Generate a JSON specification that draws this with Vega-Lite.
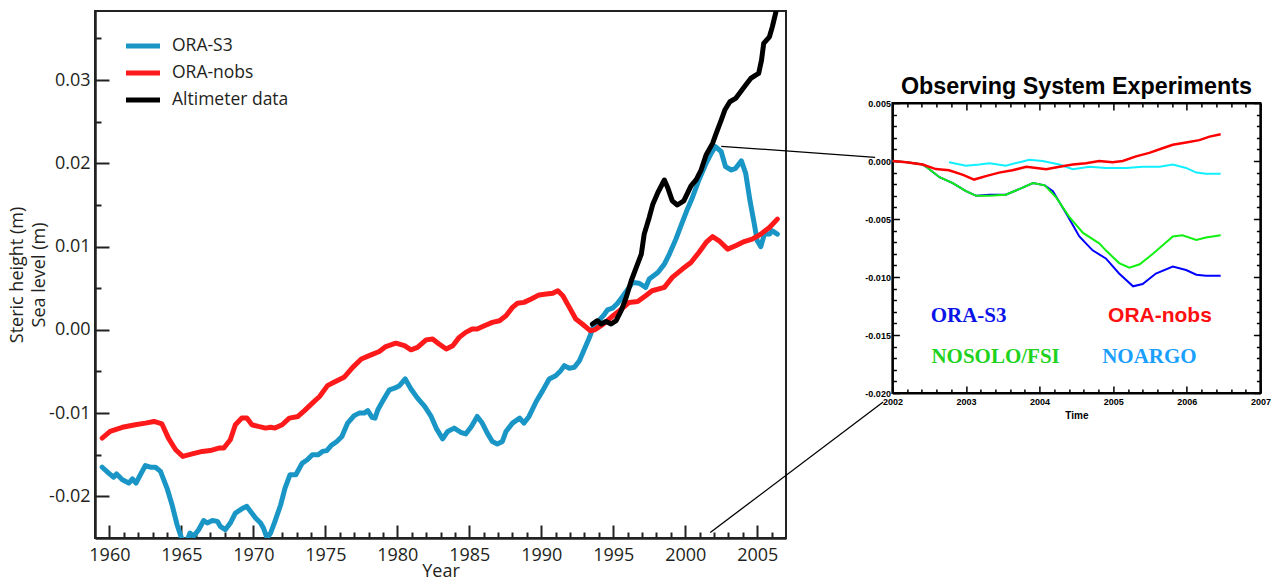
{
  "$schema": "https://vega.github.io/schema/vega-lite/v6.json",
  "background": "white",
  "padding": {"left": 7, "top": 10, "right": 0, "bottom": 0},
  "autosize": {"type": "pad"},
  "config": {
    "font": "Open Sans",
    "axis": {"grid": false, "labelFlush": false, "labelOverlap": false}
  },
  "datasets": {
    "main": [
      {"series": "ORA-S3", "year": 1959.5, "value": -0.0165},
      {"series": "ORA-S3", "year": 1959.95, "value": -0.0172},
      {"series": "ORA-S3", "year": 1960.3, "value": -0.0177},
      {"series": "ORA-S3", "year": 1960.5, "value": -0.0173},
      {"series": "ORA-S3", "year": 1960.9, "value": -0.018},
      {"series": "ORA-S3", "year": 1961.35, "value": -0.0184},
      {"series": "ORA-S3", "year": 1961.6, "value": -0.0179},
      {"series": "ORA-S3", "year": 1961.85, "value": -0.0184},
      {"series": "ORA-S3", "year": 1962.15, "value": -0.0174},
      {"series": "ORA-S3", "year": 1962.5, "value": -0.0163},
      {"series": "ORA-S3", "year": 1962.85, "value": -0.0165},
      {"series": "ORA-S3", "year": 1963.2, "value": -0.0165},
      {"series": "ORA-S3", "year": 1963.55, "value": -0.017},
      {"series": "ORA-S3", "year": 1964.0, "value": -0.019},
      {"series": "ORA-S3", "year": 1964.35, "value": -0.021},
      {"series": "ORA-S3", "year": 1964.7, "value": -0.0234},
      {"series": "ORA-S3", "year": 1965.05, "value": -0.0252},
      {"series": "ORA-S3", "year": 1965.4, "value": -0.0253},
      {"series": "ORA-S3", "year": 1965.6, "value": -0.0244},
      {"series": "ORA-S3", "year": 1965.85, "value": -0.0248},
      {"series": "ORA-S3", "year": 1966.2, "value": -0.024},
      {"series": "ORA-S3", "year": 1966.55, "value": -0.0229},
      {"series": "ORA-S3", "year": 1966.8, "value": -0.0232},
      {"series": "ORA-S3", "year": 1967.15, "value": -0.0229},
      {"series": "ORA-S3", "year": 1967.5, "value": -0.023},
      {"series": "ORA-S3", "year": 1967.7, "value": -0.0236},
      {"series": "ORA-S3", "year": 1968.05, "value": -0.024},
      {"series": "ORA-S3", "year": 1968.4, "value": -0.0232},
      {"series": "ORA-S3", "year": 1968.75, "value": -0.022},
      {"series": "ORA-S3", "year": 1969.2, "value": -0.0215},
      {"series": "ORA-S3", "year": 1969.55, "value": -0.0212},
      {"series": "ORA-S3", "year": 1969.8, "value": -0.0218},
      {"series": "ORA-S3", "year": 1970.15, "value": -0.0226},
      {"series": "ORA-S3", "year": 1970.5, "value": -0.0232},
      {"series": "ORA-S3", "year": 1970.7, "value": -0.0238},
      {"series": "ORA-S3", "year": 1970.95, "value": -0.025},
      {"series": "ORA-S3", "year": 1971.2, "value": -0.0244},
      {"series": "ORA-S3", "year": 1971.5, "value": -0.023},
      {"series": "ORA-S3", "year": 1971.9, "value": -0.021},
      {"series": "ORA-S3", "year": 1972.2, "value": -0.019},
      {"series": "ORA-S3", "year": 1972.55, "value": -0.0174},
      {"series": "ORA-S3", "year": 1972.95, "value": -0.0174},
      {"series": "ORA-S3", "year": 1973.4, "value": -0.016},
      {"series": "ORA-S3", "year": 1973.75, "value": -0.0156},
      {"series": "ORA-S3", "year": 1974.1, "value": -0.015},
      {"series": "ORA-S3", "year": 1974.5, "value": -0.015},
      {"series": "ORA-S3", "year": 1974.8, "value": -0.0146},
      {"series": "ORA-S3", "year": 1975.1, "value": -0.0145},
      {"series": "ORA-S3", "year": 1975.4, "value": -0.0139},
      {"series": "ORA-S3", "year": 1975.8, "value": -0.0134},
      {"series": "ORA-S3", "year": 1976.15, "value": -0.0128},
      {"series": "ORA-S3", "year": 1976.55, "value": -0.0112},
      {"series": "ORA-S3", "year": 1977.0, "value": -0.0103},
      {"series": "ORA-S3", "year": 1977.35, "value": -0.01},
      {"series": "ORA-S3", "year": 1977.7, "value": -0.01},
      {"series": "ORA-S3", "year": 1977.95, "value": -0.0097},
      {"series": "ORA-S3", "year": 1978.25, "value": -0.0105},
      {"series": "ORA-S3", "year": 1978.45, "value": -0.0106},
      {"series": "ORA-S3", "year": 1978.65, "value": -0.0096},
      {"series": "ORA-S3", "year": 1979.0, "value": -0.0085},
      {"series": "ORA-S3", "year": 1979.45, "value": -0.0072},
      {"series": "ORA-S3", "year": 1979.8, "value": -0.007},
      {"series": "ORA-S3", "year": 1980.15, "value": -0.0067},
      {"series": "ORA-S3", "year": 1980.55, "value": -0.0059},
      {"series": "ORA-S3", "year": 1980.95, "value": -0.0071},
      {"series": "ORA-S3", "year": 1981.4, "value": -0.0082},
      {"series": "ORA-S3", "year": 1981.9, "value": -0.0092},
      {"series": "ORA-S3", "year": 1982.35, "value": -0.0104},
      {"series": "ORA-S3", "year": 1982.7, "value": -0.0118},
      {"series": "ORA-S3", "year": 1983.15, "value": -0.0131},
      {"series": "ORA-S3", "year": 1983.5, "value": -0.0122},
      {"series": "ORA-S3", "year": 1983.95, "value": -0.0118},
      {"series": "ORA-S3", "year": 1984.4, "value": -0.0123},
      {"series": "ORA-S3", "year": 1984.75, "value": -0.0125},
      {"series": "ORA-S3", "year": 1985.15, "value": -0.0116},
      {"series": "ORA-S3", "year": 1985.55, "value": -0.0104},
      {"series": "ORA-S3", "year": 1985.9, "value": -0.0112},
      {"series": "ORA-S3", "year": 1986.25, "value": -0.0124},
      {"series": "ORA-S3", "year": 1986.6, "value": -0.0134},
      {"series": "ORA-S3", "year": 1986.95, "value": -0.0137},
      {"series": "ORA-S3", "year": 1987.3, "value": -0.0134},
      {"series": "ORA-S3", "year": 1987.55, "value": -0.0122},
      {"series": "ORA-S3", "year": 1988.0, "value": -0.0112},
      {"series": "ORA-S3", "year": 1988.5, "value": -0.0106},
      {"series": "ORA-S3", "year": 1988.8, "value": -0.0112},
      {"series": "ORA-S3", "year": 1989.15, "value": -0.0104},
      {"series": "ORA-S3", "year": 1989.65, "value": -0.0086},
      {"series": "ORA-S3", "year": 1990.1, "value": -0.0073},
      {"series": "ORA-S3", "year": 1990.55, "value": -0.0059},
      {"series": "ORA-S3", "year": 1991.0, "value": -0.0055},
      {"series": "ORA-S3", "year": 1991.35, "value": -0.0049},
      {"series": "ORA-S3", "year": 1991.6, "value": -0.0043},
      {"series": "ORA-S3", "year": 1991.95, "value": -0.0046},
      {"series": "ORA-S3", "year": 1992.3, "value": -0.0045},
      {"series": "ORA-S3", "year": 1992.65, "value": -0.0037},
      {"series": "ORA-S3", "year": 1993.0, "value": -0.0023},
      {"series": "ORA-S3", "year": 1993.35, "value": -0.0009},
      {"series": "ORA-S3", "year": 1993.6, "value": 0.0003},
      {"series": "ORA-S3", "year": 1994.0, "value": 0.0011},
      {"series": "ORA-S3", "year": 1994.4, "value": 0.0019},
      {"series": "ORA-S3", "year": 1994.6, "value": 0.0024},
      {"series": "ORA-S3", "year": 1994.95, "value": 0.0026},
      {"series": "ORA-S3", "year": 1995.3, "value": 0.0032},
      {"series": "ORA-S3", "year": 1995.65, "value": 0.004},
      {"series": "ORA-S3", "year": 1995.9, "value": 0.0046},
      {"series": "ORA-S3", "year": 1996.35, "value": 0.0057},
      {"series": "ORA-S3", "year": 1996.8, "value": 0.0056},
      {"series": "ORA-S3", "year": 1997.25, "value": 0.0051},
      {"series": "ORA-S3", "year": 1997.5, "value": 0.0061},
      {"series": "ORA-S3", "year": 1998.1, "value": 0.0069},
      {"series": "ORA-S3", "year": 1998.55, "value": 0.0079},
      {"series": "ORA-S3", "year": 1998.9, "value": 0.0091},
      {"series": "ORA-S3", "year": 1999.35, "value": 0.0109},
      {"series": "ORA-S3", "year": 1999.7, "value": 0.0125},
      {"series": "ORA-S3", "year": 2000.15, "value": 0.0145},
      {"series": "ORA-S3", "year": 2000.5, "value": 0.0159},
      {"series": "ORA-S3", "year": 2000.95, "value": 0.018},
      {"series": "ORA-S3", "year": 2001.45, "value": 0.02},
      {"series": "ORA-S3", "year": 2001.8, "value": 0.0212},
      {"series": "ORA-S3", "year": 2002.1, "value": 0.022},
      {"series": "ORA-S3", "year": 2002.5, "value": 0.0214},
      {"series": "ORA-S3", "year": 2002.8, "value": 0.0196},
      {"series": "ORA-S3", "year": 2003.2, "value": 0.0192},
      {"series": "ORA-S3", "year": 2003.5, "value": 0.0194},
      {"series": "ORA-S3", "year": 2003.9, "value": 0.0203},
      {"series": "ORA-S3", "year": 2004.2, "value": 0.0188},
      {"series": "ORA-S3", "year": 2004.5, "value": 0.0155},
      {"series": "ORA-S3", "year": 2004.8, "value": 0.0127},
      {"series": "ORA-S3", "year": 2005.0, "value": 0.0107},
      {"series": "ORA-S3", "year": 2005.25, "value": 0.01},
      {"series": "ORA-S3", "year": 2005.5, "value": 0.0115},
      {"series": "ORA-S3", "year": 2005.85, "value": 0.0115},
      {"series": "ORA-S3", "year": 2006.05, "value": 0.0119},
      {"series": "ORA-S3", "year": 2006.4, "value": 0.0115},
      {"series": "ORA-nobs", "year": 1959.5, "value": -0.013},
      {"series": "ORA-nobs", "year": 1960.05, "value": -0.0122},
      {"series": "ORA-nobs", "year": 1960.9, "value": -0.0117},
      {"series": "ORA-nobs", "year": 1961.8, "value": -0.0114},
      {"series": "ORA-nobs", "year": 1962.5, "value": -0.0112},
      {"series": "ORA-nobs", "year": 1963.1, "value": -0.011},
      {"series": "ORA-nobs", "year": 1963.65, "value": -0.0113},
      {"series": "ORA-nobs", "year": 1964.1, "value": -0.013},
      {"series": "ORA-nobs", "year": 1964.6, "value": -0.0144},
      {"series": "ORA-nobs", "year": 1965.1, "value": -0.0152},
      {"series": "ORA-nobs", "year": 1965.75, "value": -0.0149},
      {"series": "ORA-nobs", "year": 1966.45, "value": -0.0146},
      {"series": "ORA-nobs", "year": 1967.0, "value": -0.0145},
      {"series": "ORA-nobs", "year": 1967.6, "value": -0.0142},
      {"series": "ORA-nobs", "year": 1967.95, "value": -0.0142},
      {"series": "ORA-nobs", "year": 1968.4, "value": -0.0132},
      {"series": "ORA-nobs", "year": 1968.75, "value": -0.0114},
      {"series": "ORA-nobs", "year": 1969.2, "value": -0.0106},
      {"series": "ORA-nobs", "year": 1969.55, "value": -0.0106},
      {"series": "ORA-nobs", "year": 1969.9, "value": -0.0114},
      {"series": "ORA-nobs", "year": 1970.35, "value": -0.0116},
      {"series": "ORA-nobs", "year": 1970.85, "value": -0.0118},
      {"series": "ORA-nobs", "year": 1971.2, "value": -0.0117},
      {"series": "ORA-nobs", "year": 1971.5, "value": -0.0118},
      {"series": "ORA-nobs", "year": 1972.0, "value": -0.0114},
      {"series": "ORA-nobs", "year": 1972.5, "value": -0.0106},
      {"series": "ORA-nobs", "year": 1973.1, "value": -0.0104},
      {"series": "ORA-nobs", "year": 1973.55, "value": -0.0097},
      {"series": "ORA-nobs", "year": 1974.1, "value": -0.0088},
      {"series": "ORA-nobs", "year": 1974.6, "value": -0.008},
      {"series": "ORA-nobs", "year": 1975.15, "value": -0.0067},
      {"series": "ORA-nobs", "year": 1975.6, "value": -0.0063},
      {"series": "ORA-nobs", "year": 1976.3, "value": -0.0057},
      {"series": "ORA-nobs", "year": 1976.9, "value": -0.0045},
      {"series": "ORA-nobs", "year": 1977.5, "value": -0.0035},
      {"series": "ORA-nobs", "year": 1978.05, "value": -0.0031},
      {"series": "ORA-nobs", "year": 1978.75, "value": -0.0026},
      {"series": "ORA-nobs", "year": 1979.2, "value": -0.002},
      {"series": "ORA-nobs", "year": 1979.9, "value": -0.0016},
      {"series": "ORA-nobs", "year": 1980.5, "value": -0.0019},
      {"series": "ORA-nobs", "year": 1980.95, "value": -0.0024},
      {"series": "ORA-nobs", "year": 1981.4, "value": -0.0021},
      {"series": "ORA-nobs", "year": 1982.0, "value": -0.0012},
      {"series": "ORA-nobs", "year": 1982.45, "value": -0.0011},
      {"series": "ORA-nobs", "year": 1982.9, "value": -0.0017},
      {"series": "ORA-nobs", "year": 1983.4, "value": -0.0023},
      {"series": "ORA-nobs", "year": 1983.85, "value": -0.0019},
      {"series": "ORA-nobs", "year": 1984.3, "value": -0.0009},
      {"series": "ORA-nobs", "year": 1984.75, "value": -0.0003},
      {"series": "ORA-nobs", "year": 1985.2, "value": 0.0001},
      {"series": "ORA-nobs", "year": 1985.55, "value": 0.0001},
      {"series": "ORA-nobs", "year": 1986.05, "value": 0.0005},
      {"series": "ORA-nobs", "year": 1986.6, "value": 0.0009},
      {"series": "ORA-nobs", "year": 1987.1, "value": 0.0011},
      {"series": "ORA-nobs", "year": 1987.55, "value": 0.0017},
      {"series": "ORA-nobs", "year": 1988.0, "value": 0.0027},
      {"series": "ORA-nobs", "year": 1988.35, "value": 0.0032},
      {"series": "ORA-nobs", "year": 1988.8, "value": 0.0033},
      {"series": "ORA-nobs", "year": 1989.3, "value": 0.0037},
      {"series": "ORA-nobs", "year": 1989.85, "value": 0.0042},
      {"series": "ORA-nobs", "year": 1990.35, "value": 0.0043},
      {"series": "ORA-nobs", "year": 1990.8, "value": 0.0044},
      {"series": "ORA-nobs", "year": 1991.15, "value": 0.0047},
      {"series": "ORA-nobs", "year": 1991.5, "value": 0.0041},
      {"series": "ORA-nobs", "year": 1991.95, "value": 0.0027},
      {"series": "ORA-nobs", "year": 1992.4, "value": 0.0013},
      {"series": "ORA-nobs", "year": 1992.85, "value": 0.0007},
      {"series": "ORA-nobs", "year": 1993.4, "value": -0.0001},
      {"series": "ORA-nobs", "year": 1993.7, "value": 0.0},
      {"series": "ORA-nobs", "year": 1994.15, "value": 0.0005},
      {"series": "ORA-nobs", "year": 1994.6, "value": 0.0011},
      {"series": "ORA-nobs", "year": 1995.05, "value": 0.0018},
      {"series": "ORA-nobs", "year": 1995.65, "value": 0.0026},
      {"series": "ORA-nobs", "year": 1996.1, "value": 0.0033},
      {"series": "ORA-nobs", "year": 1996.7, "value": 0.0034},
      {"series": "ORA-nobs", "year": 1997.25, "value": 0.0041},
      {"series": "ORA-nobs", "year": 1997.7, "value": 0.0047},
      {"series": "ORA-nobs", "year": 1998.55, "value": 0.0051},
      {"series": "ORA-nobs", "year": 1999.1, "value": 0.0063},
      {"series": "ORA-nobs", "year": 1999.8, "value": 0.0073},
      {"series": "ORA-nobs", "year": 2000.4, "value": 0.0081},
      {"series": "ORA-nobs", "year": 2000.95, "value": 0.0093},
      {"series": "ORA-nobs", "year": 2001.45, "value": 0.0105},
      {"series": "ORA-nobs", "year": 2001.9, "value": 0.0112},
      {"series": "ORA-nobs", "year": 2002.35, "value": 0.0107},
      {"series": "ORA-nobs", "year": 2002.95, "value": 0.0097},
      {"series": "ORA-nobs", "year": 2003.5, "value": 0.0101},
      {"series": "ORA-nobs", "year": 2004.1, "value": 0.0106},
      {"series": "ORA-nobs", "year": 2004.65, "value": 0.0109},
      {"series": "ORA-nobs", "year": 2005.25, "value": 0.0115},
      {"series": "ORA-nobs", "year": 2005.85, "value": 0.0123},
      {"series": "ORA-nobs", "year": 2006.4, "value": 0.0133},
      {"series": "Altimeter data", "year": 1993.55, "value": 0.0007},
      {"series": "Altimeter data", "year": 1993.9, "value": 0.0011},
      {"series": "Altimeter data", "year": 1994.15, "value": 0.0007},
      {"series": "Altimeter data", "year": 1994.5, "value": 0.001},
      {"series": "Altimeter data", "year": 1994.85, "value": 0.0007},
      {"series": "Altimeter data", "year": 1995.2, "value": 0.0011},
      {"series": "Altimeter data", "year": 1995.55, "value": 0.0023},
      {"series": "Altimeter data", "year": 1995.9, "value": 0.0039},
      {"series": "Altimeter data", "year": 1996.25, "value": 0.0059},
      {"series": "Altimeter data", "year": 1996.6, "value": 0.0075},
      {"series": "Altimeter data", "year": 1996.95, "value": 0.0091},
      {"series": "Altimeter data", "year": 1997.15, "value": 0.0115},
      {"series": "Altimeter data", "year": 1997.5, "value": 0.0135},
      {"series": "Altimeter data", "year": 1997.75, "value": 0.0151},
      {"series": "Altimeter data", "year": 1998.1, "value": 0.0165},
      {"series": "Altimeter data", "year": 1998.55, "value": 0.018},
      {"series": "Altimeter data", "year": 1998.8, "value": 0.017},
      {"series": "Altimeter data", "year": 1999.1, "value": 0.0155},
      {"series": "Altimeter data", "year": 1999.45, "value": 0.015},
      {"series": "Altimeter data", "year": 1999.9, "value": 0.0155},
      {"series": "Altimeter data", "year": 2000.4, "value": 0.0173},
      {"series": "Altimeter data", "year": 2000.75, "value": 0.018},
      {"series": "Altimeter data", "year": 2001.1, "value": 0.0192},
      {"series": "Altimeter data", "year": 2001.45, "value": 0.021},
      {"series": "Altimeter data", "year": 2001.9, "value": 0.0224},
      {"series": "Altimeter data", "year": 2002.15, "value": 0.0236},
      {"series": "Altimeter data", "year": 2002.5, "value": 0.0252},
      {"series": "Altimeter data", "year": 2002.75, "value": 0.0264},
      {"series": "Altimeter data", "year": 2003.1, "value": 0.0274},
      {"series": "Altimeter data", "year": 2003.5, "value": 0.0278},
      {"series": "Altimeter data", "year": 2003.85, "value": 0.0286},
      {"series": "Altimeter data", "year": 2004.2, "value": 0.0294},
      {"series": "Altimeter data", "year": 2004.55, "value": 0.0302},
      {"series": "Altimeter data", "year": 2004.9, "value": 0.0306},
      {"series": "Altimeter data", "year": 2005.1, "value": 0.0308},
      {"series": "Altimeter data", "year": 2005.3, "value": 0.0324},
      {"series": "Altimeter data", "year": 2005.45, "value": 0.0344},
      {"series": "Altimeter data", "year": 2005.85, "value": 0.0352},
      {"series": "Altimeter data", "year": 2006.05, "value": 0.0364},
      {"series": "Altimeter data", "year": 2006.3, "value": 0.0382}
    ],
    "links": [
      {"year": 2002.5, "value": 0.02205, "year2": 2013.19, "value2": 0.02072},
      {"year": 2001.74, "value": -0.02434, "year2": 2013.75, "value2": -0.00867}
    ],
    "inset": [
      {"series": "ORA-S3", "year": 2002.0, "value": 0.0},
      {"series": "ORA-S3", "year": 2002.2, "value": -0.0001},
      {"series": "ORA-S3", "year": 2002.41, "value": -0.0003},
      {"series": "ORA-S3", "year": 2002.48, "value": -0.0006},
      {"series": "ORA-S3", "year": 2002.64, "value": -0.0014},
      {"series": "ORA-S3", "year": 2002.82, "value": -0.0019},
      {"series": "ORA-S3", "year": 2003.0, "value": -0.0026},
      {"series": "ORA-S3", "year": 2003.14, "value": -0.003},
      {"series": "ORA-S3", "year": 2003.32, "value": -0.0029},
      {"series": "ORA-S3", "year": 2003.54, "value": -0.0029},
      {"series": "ORA-S3", "year": 2003.73, "value": -0.0024},
      {"series": "ORA-S3", "year": 2003.91, "value": -0.0019},
      {"series": "ORA-S3", "year": 2004.07, "value": -0.0021},
      {"series": "ORA-S3", "year": 2004.18, "value": -0.0026},
      {"series": "ORA-S3", "year": 2004.36, "value": -0.0045},
      {"series": "ORA-S3", "year": 2004.54, "value": -0.0065},
      {"series": "ORA-S3", "year": 2004.72, "value": -0.0077},
      {"series": "ORA-S3", "year": 2004.9, "value": -0.0084},
      {"series": "ORA-S3", "year": 2005.08, "value": -0.0097},
      {"series": "ORA-S3", "year": 2005.27, "value": -0.0108},
      {"series": "ORA-S3", "year": 2005.4, "value": -0.0106},
      {"series": "ORA-S3", "year": 2005.58, "value": -0.0097},
      {"series": "ORA-S3", "year": 2005.81, "value": -0.0091},
      {"series": "ORA-S3", "year": 2005.99, "value": -0.0094},
      {"series": "ORA-S3", "year": 2006.13, "value": -0.0098},
      {"series": "ORA-S3", "year": 2006.26, "value": -0.0099},
      {"series": "ORA-S3", "year": 2006.46, "value": -0.0099},
      {"series": "NOSOLO/FSI", "year": 2002.0, "value": 0.0},
      {"series": "NOSOLO/FSI", "year": 2002.2, "value": -0.0001},
      {"series": "NOSOLO/FSI", "year": 2002.41, "value": -0.0003},
      {"series": "NOSOLO/FSI", "year": 2002.48, "value": -0.0006},
      {"series": "NOSOLO/FSI", "year": 2002.64, "value": -0.0014},
      {"series": "NOSOLO/FSI", "year": 2002.82, "value": -0.0019},
      {"series": "NOSOLO/FSI", "year": 2003.0, "value": -0.0026},
      {"series": "NOSOLO/FSI", "year": 2003.14, "value": -0.003},
      {"series": "NOSOLO/FSI", "year": 2003.32, "value": -0.003},
      {"series": "NOSOLO/FSI", "year": 2003.54, "value": -0.0029},
      {"series": "NOSOLO/FSI", "year": 2003.73, "value": -0.0024},
      {"series": "NOSOLO/FSI", "year": 2003.91, "value": -0.0019},
      {"series": "NOSOLO/FSI", "year": 2004.07, "value": -0.0021},
      {"series": "NOSOLO/FSI", "year": 2004.22, "value": -0.0031},
      {"series": "NOSOLO/FSI", "year": 2004.4, "value": -0.0048},
      {"series": "NOSOLO/FSI", "year": 2004.59, "value": -0.0062},
      {"series": "NOSOLO/FSI", "year": 2004.81, "value": -0.0071},
      {"series": "NOSOLO/FSI", "year": 2004.9, "value": -0.0077},
      {"series": "NOSOLO/FSI", "year": 2005.08, "value": -0.0088},
      {"series": "NOSOLO/FSI", "year": 2005.22, "value": -0.0092},
      {"series": "NOSOLO/FSI", "year": 2005.36, "value": -0.0089},
      {"series": "NOSOLO/FSI", "year": 2005.54, "value": -0.008},
      {"series": "NOSOLO/FSI", "year": 2005.72, "value": -0.007},
      {"series": "NOSOLO/FSI", "year": 2005.81, "value": -0.0065},
      {"series": "NOSOLO/FSI", "year": 2005.94, "value": -0.0064},
      {"series": "NOSOLO/FSI", "year": 2006.13, "value": -0.0068},
      {"series": "NOSOLO/FSI", "year": 2006.26, "value": -0.0066},
      {"series": "NOSOLO/FSI", "year": 2006.46, "value": -0.0064},
      {"series": "NOARGO", "year": 2002.77, "value": -0.0001},
      {"series": "NOARGO", "year": 2003.0, "value": -0.0004},
      {"series": "NOARGO", "year": 2003.18, "value": -0.0003},
      {"series": "NOARGO", "year": 2003.32, "value": -0.0002},
      {"series": "NOARGO", "year": 2003.54, "value": -0.0004},
      {"series": "NOARGO", "year": 2003.73, "value": -0.0001},
      {"series": "NOARGO", "year": 2003.86, "value": 0.0001},
      {"series": "NOARGO", "year": 2004.04, "value": 0.0},
      {"series": "NOARGO", "year": 2004.27, "value": -0.0003},
      {"series": "NOARGO", "year": 2004.45, "value": -0.0007},
      {"series": "NOARGO", "year": 2004.68, "value": -0.0005},
      {"series": "NOARGO", "year": 2004.9, "value": -0.0006},
      {"series": "NOARGO", "year": 2005.18, "value": -0.0006},
      {"series": "NOARGO", "year": 2005.4, "value": -0.0005},
      {"series": "NOARGO", "year": 2005.63, "value": -0.0005},
      {"series": "NOARGO", "year": 2005.81, "value": -0.0003},
      {"series": "NOARGO", "year": 2005.99, "value": -0.0006},
      {"series": "NOARGO", "year": 2006.13, "value": -0.001},
      {"series": "NOARGO", "year": 2006.26, "value": -0.0011},
      {"series": "NOARGO", "year": 2006.46, "value": -0.0011},
      {"series": "ORA-nobs", "year": 2002.0, "value": 0.0},
      {"series": "ORA-nobs", "year": 2002.19, "value": -0.0001},
      {"series": "ORA-nobs", "year": 2002.41, "value": -0.0003},
      {"series": "ORA-nobs", "year": 2002.59, "value": -0.0007},
      {"series": "ORA-nobs", "year": 2002.77, "value": -0.0008},
      {"series": "ORA-nobs", "year": 2002.96, "value": -0.0012},
      {"series": "ORA-nobs", "year": 2003.11, "value": -0.0016},
      {"series": "ORA-nobs", "year": 2003.27, "value": -0.0013},
      {"series": "ORA-nobs", "year": 2003.45, "value": -0.001},
      {"series": "ORA-nobs", "year": 2003.63, "value": -0.0008},
      {"series": "ORA-nobs", "year": 2003.82, "value": -0.0005},
      {"series": "ORA-nobs", "year": 2004.09, "value": -0.0007},
      {"series": "ORA-nobs", "year": 2004.27, "value": -0.0005},
      {"series": "ORA-nobs", "year": 2004.45, "value": -0.0003},
      {"series": "ORA-nobs", "year": 2004.63, "value": -0.0002},
      {"series": "ORA-nobs", "year": 2004.81, "value": 0.0},
      {"series": "ORA-nobs", "year": 2004.99, "value": -0.0001},
      {"series": "ORA-nobs", "year": 2005.13, "value": 0.0},
      {"series": "ORA-nobs", "year": 2005.31, "value": 0.0004},
      {"series": "ORA-nobs", "year": 2005.49, "value": 0.0007},
      {"series": "ORA-nobs", "year": 2005.67, "value": 0.0011},
      {"series": "ORA-nobs", "year": 2005.81, "value": 0.0014},
      {"series": "ORA-nobs", "year": 2005.99, "value": 0.0016},
      {"series": "ORA-nobs", "year": 2006.17, "value": 0.0018},
      {"series": "ORA-nobs", "year": 2006.31, "value": 0.0021},
      {"series": "ORA-nobs", "year": 2006.46, "value": 0.0023}
    ],
    "inset_labels": [
      {"label": "ORA-S3", "year": 2002.52, "value": -0.0134},
      {"label": "ORA-nobs", "year": 2004.93, "value": -0.0134},
      {"label": "NOSOLO/FSI", "year": 2002.53, "value": -0.0169},
      {"label": "NOARGO", "year": 2004.85, "value": -0.0169}
    ]
  },
  "bounds": "flush",
  "spacing": 106.4,
  "hconcat": [
    {
      "width": 691,
      "height": 527,
      "view": {"stroke": "#222222", "strokeWidth": 2},
      "encoding": {
        "x": {
          "field": "year", "type": "quantitative",
          "scale": {"domain": [1959, 2007], "nice": false, "zero": false},
          "axis": {
            "values": [1960,1961,1962,1963,1964,1965,1966,1967,1968,1969,1970,1971,1972,1973,1974,1975,1976,1977,1978,1979,1980,1981,1982,1983,1984,1985,1986,1987,1988,1989,1990,1991,1992,1993,1994,1995,1996,1997,1998,1999,2000,2001,2002,2003,2004,2005,2006],
            "labelExpr": "datum.value % 5 == 0 ? format(datum.value, 'd') : ''",
            "tickSize": {"condition": {"test": "datum.value % 5 == 0", "value": -13}, "value": -6},
            "tickWidth": 2, "tickColor": "#222222",
            "domainColor": "#222222", "domainWidth": 2.5,
            "labelOverlap": false, "labelFlush": false,
            "labelPadding": 21.5, "labelFont": "Open Sans", "labelFontSize": 18, "labelColor": "#231f20",
            "title": "Year", "titleFont": "Open Sans", "titleFontSize": 18, "titleFontWeight": "normal", "titleColor": "#231f20", "titlePadding": -9
          }
        },
        "y": {
          "field": "value", "type": "quantitative",
          "scale": {"domain": [-0.025, 0.0383], "nice": false, "zero": false},
          "axis": {
            "values": [-0.02,-0.015,-0.01,-0.005,0,0.005,0.01,0.015,0.02,0.025,0.03,0.035],
            "labelExpr": "abs(round(datum.value*1000)) % 10 == 0 ? replace(format(datum.value, '.2f'), '\u2212', '-') : ''",
            "tickSize": {"condition": {"test": "abs(round(datum.value*1000)) % 10 == 0", "value": -14}, "value": -6},
            "tickWidth": 2, "tickColor": "#222222",
            "domainColor": "#222222", "domainWidth": 2.5,
            "labelOverlap": false, "labelFlush": false,
            "labelPadding": 19, "labelFont": "Open Sans", "labelFontSize": 18, "labelColor": "#231f20",
            "title": ["Steric height (m)", "Sea level (m)"], "titleFont": "Open Sans", "titleFontSize": 18, "titleFontWeight": "normal", "titleColor": "#231f20", "titlePadding": 0, "titleLineHeight": 22
          }
        }
      },
      "layer": [
        {
          "data": {"name": "main"},
          "mark": {"type": "line", "strokeWidth": 5, "clip": true, "strokeJoin": "round", "strokeCap": "round"},
          "encoding": {
            "color": {
              "field": "series", "type": "nominal",
              "scale": {"domain": ["ORA-S3", "ORA-nobs", "Altimeter data"], "range": ["#1996c6", "#fe1a1a", "#000000"]},
              "legend": {
                "orient": "none", "legendX": 37, "legendY": 24, "title": null,
                "symbolType": "M-2,0L2,0", "symbolSize": 289, "symbolStrokeWidth": 5,
                "labelFont": "Open Sans", "labelFontSize": 17.5, "labelColor": "#231f20",
                "labelOffset": 18, "rowPadding": 6, "padding": 0
              }
            }
          }
        },
        {
          "data": {"name": "links"},
          "mark": {"type": "rule", "clip": false, "color": "#000000", "strokeWidth": 1.3},
          "encoding": {
            "x2": {"field": "year2"},
            "y2": {"field": "value2"}
          }
        }
      ]
    },
    {
      "bounds": "flush",
      "spacing": 0,
      "vconcat": [
        {
          "width": 368,
          "height": 92,
          "view": {"stroke": null},
          "data": {"values": [{"blank": ""}]},
          "mark": {"type": "text", "text": ""}
        },
        {
          "width": 368,
          "height": 290,
          "view": {"stroke": "#000000", "strokeWidth": 2},
          "title": {"text": "Observing System Experiments", "font": "Liberation Sans", "fontSize": 23.3, "fontWeight": "bold", "color": "#000000", "anchor": "middle", "offset": 0},
          "resolve": {"axis": {"x": "independent", "y": "independent"}, "scale": {"color": "independent"}},
          "layer": [
            {
              "data": {"name": "inset"},
              "transform": [{"filter": "datum.series != 'ORA-nobs'"}],
              "mark": {"type": "line", "strokeWidth": 2, "clip": true},
              "encoding": {
                "x": {
                  "field": "year", "type": "quantitative",
                  "scale": {"domain": [2002, 2007], "nice": false, "zero": false},
                  "axis": {
                    "orient": "bottom",
                    "values": [2002,2002.2,2002.4,2002.6,2002.8,2003,2003.2,2003.4,2003.6,2003.8,2004,2004.2,2004.4,2004.6,2004.8,2005,2005.2,2005.4,2005.6,2005.8,2006,2006.2,2006.4,2006.6,2006.8,2007],
                    "labelExpr": "abs(datum.value - round(datum.value)) < 0.01 ? format(round(datum.value), 'd') : ''",
                    "tickSize": {"condition": {"test": "abs(datum.value - round(datum.value)) < 0.01", "value": -7}, "value": -4},
                    "tickWidth": 1.5, "tickColor": "#000000", "domainColor": "#000000", "domainWidth": 2,
                    "labelOverlap": false, "labelFlush": false,
                    "labelFont": "Liberation Sans", "labelFontWeight": "bold", "labelFontSize": 9, "labelColor": "#000000", "labelPadding": 11,
                    "title": "Time", "titleFont": "Liberation Sans", "titleFontWeight": "bold", "titleFontSize": 10, "titleColor": "#000000", "titlePadding": 1
                  }
                },
                "y": {
                  "field": "value", "type": "quantitative",
                  "scale": {"domain": [-0.02, 0.005], "nice": false, "zero": false},
                  "axis": {
                    "orient": "left",
                    "values": [-0.02,-0.019,-0.018,-0.017,-0.016,-0.015,-0.014,-0.013,-0.012,-0.011,-0.01,-0.009,-0.008,-0.007,-0.006,-0.005,-0.004,-0.003,-0.002,-0.001,0,0.001,0.002,0.003,0.004,0.005],
                    "labelExpr": "abs(round(datum.value*1000)) % 5 == 0 ? replace(format(datum.value, '.3f'), '\u2212', '-') : ''",
                    "tickSize": {"condition": {"test": "abs(round(datum.value*1000)) % 5 == 0", "value": -7}, "value": -4},
                    "tickWidth": 1.5, "tickColor": "#000000", "domainColor": "#000000", "domainWidth": 2,
                    "labelOverlap": false, "labelFlush": false,
                    "labelFont": "Liberation Sans", "labelFontWeight": "bold", "labelFontSize": 9, "labelColor": "#000000", "labelPadding": 9,
                    "title": null
                  }
                },
                "color": {
                  "field": "series", "type": "nominal",
                  "scale": {"domain": ["ORA-S3", "NOSOLO/FSI", "NOARGO"], "range": ["#0000ff", "#11f011", "#11f0ff"]},
                  "legend": null
                }
              }
            },
            {
              "data": {"name": "inset"},
              "transform": [{"filter": "datum.series == 'ORA-nobs'"}],
              "mark": {"type": "line", "strokeWidth": 2.5, "clip": true, "color": "#ff0000"},
              "encoding": {
                "x": {
                  "field": "year", "type": "quantitative",
                  "scale": {"domain": [2002, 2007], "nice": false, "zero": false},
                  "axis": {
                    "orient": "top",
                    "values": [2002,2002.2,2002.4,2002.6,2002.8,2003,2003.2,2003.4,2003.6,2003.8,2004,2004.2,2004.4,2004.6,2004.8,2005,2005.2,2005.4,2005.6,2005.8,2006,2006.2,2006.4,2006.6,2006.8,2007],
                    "labels": false,
                    "tickSize": {"condition": {"test": "abs(datum.value - round(datum.value)) < 0.01", "value": -7}, "value": -4},
                    "tickWidth": 1.5, "tickColor": "#000000", "domainColor": "#000000", "domainWidth": 2,
                    "title": null
                  }
                },
                "y": {
                  "field": "value", "type": "quantitative",
                  "scale": {"domain": [-0.02, 0.005], "nice": false, "zero": false},
                  "axis": {
                    "orient": "right",
                    "values": [-0.02,-0.019,-0.018,-0.017,-0.016,-0.015,-0.014,-0.013,-0.012,-0.011,-0.01,-0.009,-0.008,-0.007,-0.006,-0.005,-0.004,-0.003,-0.002,-0.001,0,0.001,0.002,0.003,0.004,0.005],
                    "labels": false,
                    "tickSize": {"condition": {"test": "abs(round(datum.value*1000)) % 5 == 0", "value": -7}, "value": -4},
                    "tickWidth": 1.5, "tickColor": "#000000", "domainColor": "#000000", "domainWidth": 2,
                    "title": null
                  }
                }
              }
            },
            {
              "data": {"name": "inset_labels"},
              "transform": [{"filter": "datum.label != 'ORA-nobs'"}],
              "mark": {"type": "text", "align": "left", "baseline": "middle", "font": "Liberation Serif", "fontWeight": "bold", "fontSize": 21},
              "encoding": {
                "x": {"field": "year", "type": "quantitative", "axis": null},
                "y": {"field": "value", "type": "quantitative", "axis": null},
                "text": {"field": "label"},
                "color": {
                  "field": "label", "type": "nominal",
                  "scale": {"domain": ["ORA-S3", "NOSOLO/FSI", "NOARGO"], "range": ["#0a14e8", "#1ed21e", "#1a9fff"]},
                  "legend": null
                }
              }
            },
            {
              "data": {"name": "inset_labels"},
              "transform": [{"filter": "datum.label == 'ORA-nobs'"}],
              "mark": {"type": "text", "align": "left", "baseline": "middle", "font": "Liberation Sans", "fontWeight": "bold", "fontSize": 21, "color": "#ff1010"},
              "encoding": {
                "x": {"field": "year", "type": "quantitative", "axis": null},
                "y": {"field": "value", "type": "quantitative", "axis": null},
                "text": {"field": "label"}
              }
            }
          ]
        }
      ]
    }
  ]
}
